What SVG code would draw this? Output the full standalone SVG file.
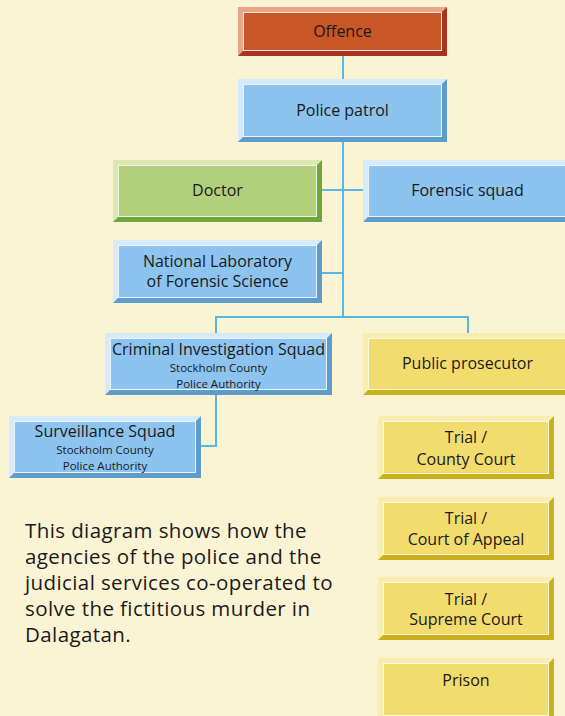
<svg xmlns="http://www.w3.org/2000/svg" width="565" height="716" viewBox="0 0 565 716">
<style>
text{font-family:"Open Sans","Noto Sans","Liberation Sans",sans-serif;fill:#1a1a1a;text-anchor:middle}
.t{font-size:16px}
.s{font-size:11.5px}
.p{font-size:20.5px;letter-spacing:0.4px;text-anchor:start}
.face{stroke:#ffffff;stroke-opacity:0.85;stroke-width:1}
.red .dk{fill:#a83420}.red .lt{fill:#e8a888}.red .face{fill:#c95627}
.blue .dk{fill:#5e9ccb}.blue .lt{fill:#d6eaf9}.blue .face{fill:#8cc3ef}
.green .dk{fill:#6ea63a}.green .lt{fill:#dbe8b3}.green .face{fill:#b2d07b}
.yellow .dk{fill:#c9b11b}.yellow .lt{fill:#f8eeb2}.yellow .face{fill:#f2dc6e}
.conn{stroke:#5ab6e6;stroke-width:2;fill:none}
</style>
<rect width="565" height="716" fill="#fbf4d4"/>
<g id="connectors" class="conn">
<path d="M343 56V79"/>
<path d="M343 142V317"/>
<path d="M322 190H363"/>
<path d="M322 273H343"/>
<path d="M216 333V317H468V333"/>
<path d="M216 395V446H201"/>
</g>
<g id="offence" class="red">
<rect class="dk" x="238" y="7" width="209" height="49"/>
<polygon class="lt" points="238,7 447,7 442,12 243,12 243,51 238,56"/>
<rect class="face" x="243.5" y="12.5" width="198" height="38"/>
<text class="t" x="342.5" y="37">Offence</text>
</g>
<g id="police-patrol" class="blue">
<rect class="dk" x="238" y="79" width="209" height="63"/>
<polygon class="lt" points="238,79 447,79 442,84 243,84 243,137 238,142"/>
<rect class="face" x="243.5" y="84.5" width="198" height="52"/>
<text class="t" x="342.5" y="116">Police patrol</text>
</g>
<g id="doctor" class="green">
<rect class="dk" x="113" y="160" width="209" height="62"/>
<polygon class="lt" points="113,160 322,160 317,165 118,165 118,217 113,222"/>
<rect class="face" x="118.5" y="165.5" width="198" height="51"/>
<text class="t" x="217.5" y="196">Doctor</text>
</g>
<g id="forensic-squad" class="blue">
<rect class="dk" x="363" y="160" width="209" height="62"/>
<polygon class="lt" points="363,160 572,160 567,165 368,165 368,217 363,222"/>
<rect class="face" x="368.5" y="165.5" width="198" height="51"/>
<text class="t" x="467.5" y="196">Forensic squad</text>
</g>
<g id="national-lab" class="blue">
<rect class="dk" x="113" y="240" width="209" height="63"/>
<polygon class="lt" points="113,240 322,240 317,245 118,245 118,298 113,303"/>
<rect class="face" x="118.5" y="245.5" width="198" height="52"/>
<text class="t" x="217.5" y="266.5">National Laboratory</text>
<text class="t" x="217.5" y="287">of Forensic Science</text>
</g>
<g id="criminal-investigation" class="blue">
<rect class="dk" x="105" y="333" width="227" height="62"/>
<polygon class="lt" points="105,333 332,333 327,338 110,338 110,390 105,395"/>
<rect class="face" x="110.5" y="338.5" width="216" height="51"/>
<text class="t" x="218.5" y="355">Criminal Investigation Squad</text>
<text class="s" x="218.5" y="372">Stockholm County</text>
<text class="s" x="218.5" y="387.5">Police Authority</text>
</g>
<g id="public-prosecutor" class="yellow">
<rect class="dk" x="363" y="333" width="209" height="62"/>
<polygon class="lt" points="363,333 572,333 567,338 368,338 368,390 363,395"/>
<rect class="face" x="368.5" y="338.5" width="198" height="51"/>
<text class="t" x="467.5" y="369">Public prosecutor</text>
</g>
<g id="surveillance" class="blue">
<rect class="dk" x="9" y="416" width="192" height="62"/>
<polygon class="lt" points="9,416 201,416 196,421 14,421 14,473 9,478"/>
<rect class="face" x="14.5" y="421.5" width="181" height="51"/>
<text class="t" x="105" y="437">Surveillance Squad</text>
<text class="s" x="105" y="454">Stockholm County</text>
<text class="s" x="105" y="469.5">Police Authority</text>
</g>
<g id="trial-county" class="yellow">
<rect class="dk" x="378" y="416" width="176" height="63"/>
<polygon class="lt" points="378,416 554,416 549,421 383,421 383,474 378,479"/>
<rect class="face" x="383.5" y="421.5" width="165" height="52"/>
<text class="t" x="466" y="443">Trial /</text>
<text class="t" x="466" y="464.5">County Court</text>
</g>
<g id="trial-appeal" class="yellow">
<rect class="dk" x="378" y="497" width="176" height="63"/>
<polygon class="lt" points="378,497 554,497 549,502 383,502 383,555 378,560"/>
<rect class="face" x="383.5" y="502.5" width="165" height="52"/>
<text class="t" x="466" y="524">Trial /</text>
<text class="t" x="466" y="545">Court of Appeal</text>
</g>
<g id="trial-supreme" class="yellow">
<rect class="dk" x="378" y="577" width="176" height="63"/>
<polygon class="lt" points="378,577 554,577 549,582 383,582 383,635 378,640"/>
<rect class="face" x="383.5" y="582.5" width="165" height="52"/>
<text class="t" x="466" y="604.5">Trial /</text>
<text class="t" x="466" y="625">Supreme Court</text>
</g>
<g id="prison" class="yellow">
<rect class="dk" x="378" y="658" width="176" height="63"/>
<polygon class="lt" points="378,658 554,658 549,663 383,663 383,716 378,721"/>
<rect class="face" x="383.5" y="663.5" width="165" height="52"/>
<text class="t" x="466" y="686">Prison</text>
</g>
<g id="caption">
<text class="p" x="25" y="538">This diagram shows how the</text>
<text class="p" x="25" y="564">agencies of the police and the</text>
<text class="p" x="25" y="590">judicial services co-operated to</text>
<text class="p" x="25" y="616">solve the fictitious murder in</text>
<text class="p" x="25" y="642">Dalagatan.</text>
</g>
</svg>
